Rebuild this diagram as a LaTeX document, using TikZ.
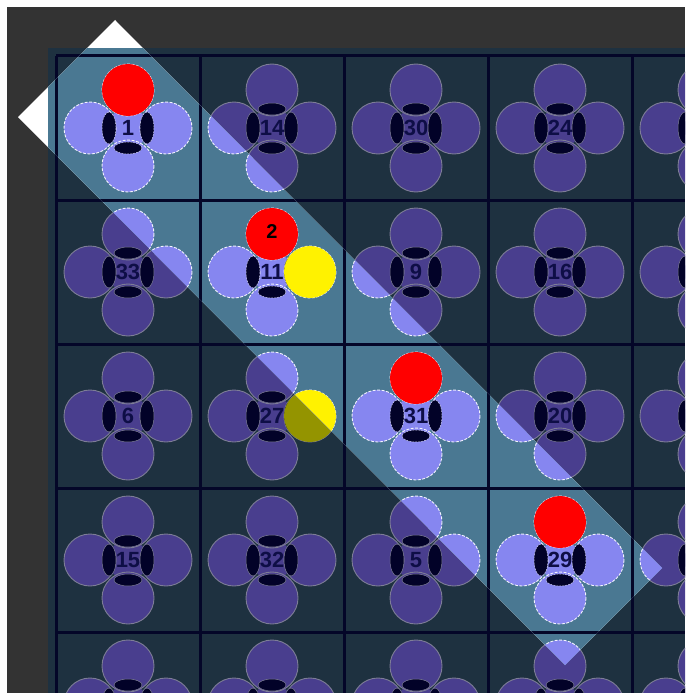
\documentclass[tikz,border=0pt]{standalone}
\usepackage{fontspec}
\setsansfont{Liberation Sans}
\usetikzlibrary{calc}

\definecolor{FrameGray}{RGB}{51,51,51}
\definecolor{BoardDark}{RGB}{30,49,64}
\definecolor{BoardLight}{RGB}{74,120,146}
\definecolor{PetalDark}{RGB}{73,62,142}
\definecolor{PetalLight}{RGB}{134,134,240}
\definecolor{EdgeDark}{RGB}{125,125,150}
\definecolor{GridNavy}{RGB}{4,6,40}
\definecolor{HoleNavy}{RGB}{2,2,40}
\definecolor{LabelNavy}{RGB}{14,14,70}
\definecolor{OliveDark}{RGB}{148,148,0}

% one flower, centre given in px
\newcommand{\flower}[2]{%
    \fill[PetalFill] (#1,#2) circle (20);
    \foreach \dx/\dy in {0/-38, -38/0, 38/0, 0/38}
        \filldraw[petal] (#1+\dx,#2+\dy) circle (26);
    \foreach \dx/\dy/\rx/\ry in {0/-19/14/6, 0/20/14/6, -19/0/7/16, 19/0/7/16}
        \filldraw[hole] (#1+\dx,#2+\dy) ellipse ({\rx} and {\ry});
}

% grid, flowers and pieces
\newcommand{\board}{%
    \foreach \k in {0,...,4} {
        \draw[gridline] (56+144*\k,56) -- (56+144*\k,693);
        \draw[gridline] (56,56+144*\k) -- (685,56+144*\k);
    }
    \foreach \cx in {0,...,4}
        \foreach \cy in {0,...,4}
            \flower{128+144*\cx}{128+144*\cy};
    \foreach \cx/\cy in {0/0, 1/1, 2/2, 3/3}
        \fill[red] (128+144*\cx,90+144*\cy) circle (26);
    \foreach \cx/\cy in {1/1, 1/2}
        \fill[DiscYellow] (166+144*\cx,128+144*\cy) circle (26);
}

\begin{document}
\begin{tikzpicture}[
    x=1pt, y=-1pt,
    gridline/.style={line width=3pt, GridNavy},
    petal/.style={fill=PetalFill, draw=EdgeDark, line width=0.9pt},
    hole/.style={fill=HoleNavy, draw=EdgeDark, line width=0.5pt},
    cellnum/.style={font=\sffamily\bfseries\fontsize{22}{22}\selectfont, text=LabelNavy, inner sep=0pt},
    picknum/.style={font=\sffamily\bfseries\fontsize{20}{20}\selectfont, inner sep=0pt}
]

\clip (0,0) rectangle (685,693);

% Frame
\fill[white] (0,0) rectangle (685,693);
\fill[FrameGray] (7,7) rectangle (685,693);
\fill[BoardDark] (48,48) rectangle (685,693);

% Board, shaded
\colorlet{PetalFill}{PetalDark}
\colorlet{DiscYellow}{OliveDark}
\board

% Lit band
\coordinate (bandW) at (18,117);
\coordinate (bandN) at (115,20);
\coordinate (bandE) at (662,568);
\coordinate (bandS) at (565,665);

\begin{scope}
    \clip (bandW) -- (bandN) -- (bandE) -- (bandS) -- cycle;
    \fill[white] (0,0) rectangle (685,693);
    \fill[BoardLight] (48,48) rectangle (685,693);
    \colorlet{PetalFill}{PetalLight}
    \colorlet{DiscYellow}{yellow}
    \tikzset{
        petal/.append style={draw=white!90!PetalLight, dash pattern=on 3pt off 1.5pt},
        hole/.append style={draw=white!60!PetalLight, dash pattern=on 2pt off 1pt}
    }
    \board
\end{scope}

% Numbers
\foreach \num [count=\i from 0] in {1,14,30,24,33,11,9,16,6,27,31,20,15,32,5,29} {
    \pgfmathtruncatemacro{\cx}{mod(\i,4)}
    \pgfmathtruncatemacro{\cy}{div(\i,4)}
    \node[cellnum] (n\num) at (128+144*\cx,128+144*\cy) {\num};
}
\node[picknum] (pick2) at (272,232) {2};

\end{tikzpicture}
\end{document}
